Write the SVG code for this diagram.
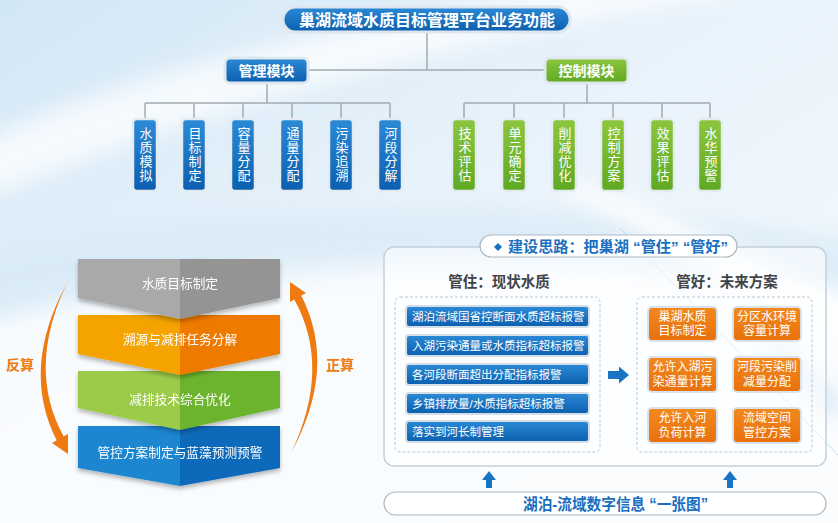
<svg xmlns="http://www.w3.org/2000/svg" width="838" height="523" viewBox="0 0 838 523">
<defs>
<linearGradient id="bg" x1="0" y1="0" x2="1" y2="1">
<stop offset="0" stop-color="#d2e7f6"/>
<stop offset="0.45" stop-color="#e9f3fb"/>
<stop offset="1" stop-color="#f7fbfe"/>
</linearGradient>
<linearGradient id="gBlue" x1="0" y1="0" x2="0" y2="1">
<stop offset="0" stop-color="#2b8ad6"/>
<stop offset="1" stop-color="#0b5fae"/>
</linearGradient>
<linearGradient id="gGreen" x1="0" y1="0" x2="0" y2="1">
<stop offset="0" stop-color="#8cc63e"/>
<stop offset="1" stop-color="#5fa922"/>
</linearGradient>
<linearGradient id="gOrange" x1="0" y1="0" x2="0" y2="1">
<stop offset="0" stop-color="#f28a1e"/>
<stop offset="1" stop-color="#e8700a"/>
</linearGradient>
<filter id="blur8" x="-20%" y="-50%" width="140%" height="200%"><feGaussianBlur stdDeviation="10"/></filter>
<filter id="sh" x="-10%" y="-10%" width="120%" height="130%"><feDropShadow dx="0" dy="3" stdDeviation="2" flood-color="#000" flood-opacity="0.28"/></filter>
</defs>
<style>
.t{font-family:"Liberation Sans","Noto Sans CJK SC",sans-serif}
.w{fill:#fff}
.b{font-weight:bold}
.line{stroke:#a3abb3;stroke-width:1.5;fill:none}
.leafB{fill:url(#gBlue);stroke:#e4ebf1;stroke-width:2.5}
.leafG{fill:url(#gGreen);stroke:#e4ebf1;stroke-width:2.5}
.leafT{font-size:13px;fill:#fff;text-anchor:middle;writing-mode:vertical-rl;letter-spacing:1px}
.bar{fill:url(#gBlue);stroke:#d3dee8;stroke-width:2}
.barT{font-size:11.5px;fill:#fff}
.ob{fill:url(#gOrange);stroke:#d9e2ea;stroke-width:2}
.obT{font-size:12px;fill:#fff;text-anchor:middle}
.dash{fill:none;stroke:#bcc6cf;stroke-width:1;stroke-dasharray:3 2}
.chT{font-size:12.7px;fill:#fff;text-anchor:middle}
.arc{fill:#ee7a12}
.blueTxt{fill:#1a6fc0}
</style>
<rect width="838" height="523" fill="url(#bg)"/>
<g opacity="0.9">
<path d="M-40,150 C150,60 400,10 700,-30 L760,-10 C450,40 200,110 -40,210 Z" fill="#ffffff" filter="url(#blur8)" opacity="0.8"/>
<path d="M-40,260 C200,200 500,190 880,240 L880,300 C500,240 200,250 -40,320 Z" fill="#d6e9f6" filter="url(#blur8)" opacity="0.7"/>
<path d="M-40,330 C200,270 500,250 880,300 L880,560 L-40,560 Z" fill="#fbfdff" filter="url(#blur8)"/>
<path d="M560,180 C650,200 760,260 880,330 L880,360 C760,300 650,230 560,190 Z" fill="#ffffff" filter="url(#blur8)"/>
<path d="M620,228 L838,455" stroke="#a9d2ee" stroke-width="1" opacity="0.8"/>
<path d="M760,320 C790,350 815,380 838,400 L838,420 C810,395 785,365 760,330 Z" fill="#9cc8ea" opacity="0.5" filter="url(#blur8)"/>
</g>

<g id="connectors">
<path class="line" d="M427,32 V70 M308,70 H545"/>
<path class="line" d="M267,83 V103 M145,103 H390 M145,103 V119 M194,103 V119 M243,103 V119 M292,103 V119 M341,103 V119 M390,103 V119"/>
<path class="line" d="M587,83 V103 M464,103 H710 M464,103 V119 M514,103 V119 M564,103 V119 M613,103 V119 M662,103 V119 M710,103 V119"/>
</g>

<g id="title">
<rect x="283" y="7" width="287" height="25" rx="12.5" fill="url(#gBlue)" stroke="#dde6ee" stroke-width="3"/>
<text class="t w b" x="427" y="25.5" font-size="16" text-anchor="middle">巢湖流域水质目标管理平台业务功能</text>
</g>

<g id="mgmt">
<rect x="225" y="58" width="83" height="25" rx="5" fill="url(#gBlue)" stroke="#e0e8ef" stroke-width="3"/>
<text class="t w b" x="266.5" y="75.5" font-size="14" text-anchor="middle">管理模块</text>
</g>
<g id="ctrl">
<rect x="545" y="58" width="83" height="25" rx="5" fill="url(#gGreen)" stroke="#e0e8ef" stroke-width="3"/>
<text class="t w b" x="586.5" y="75.5" font-size="14" text-anchor="middle">控制模块</text>
</g>

<g id="m1"><rect class="leafB" x="133" y="119" width="24" height="72" rx="4"/><text class="t leafT" x="145" y="155">水质模拟</text></g>
<g id="m2"><rect class="leafB" x="182" y="119" width="24" height="72" rx="4"/><text class="t leafT" x="194" y="155">目标制定</text></g>
<g id="m3"><rect class="leafB" x="231" y="119" width="24" height="72" rx="4"/><text class="t leafT" x="243" y="155">容量分配</text></g>
<g id="m4"><rect class="leafB" x="280" y="119" width="24" height="72" rx="4"/><text class="t leafT" x="292" y="155">通量分配</text></g>
<g id="m5"><rect class="leafB" x="329" y="119" width="24" height="72" rx="4"/><text class="t leafT" x="341" y="155">污染追溯</text></g>
<g id="m6"><rect class="leafB" x="378" y="119" width="24" height="72" rx="4"/><text class="t leafT" x="390" y="155">河段分解</text></g>

<g id="c1"><rect class="leafG" x="452" y="119" width="24" height="72" rx="4"/><text class="t leafT" x="464" y="155">技术评估</text></g>
<g id="c2"><rect class="leafG" x="502" y="119" width="24" height="72" rx="4"/><text class="t leafT" x="514" y="155">单元确定</text></g>
<g id="c3"><rect class="leafG" x="552" y="119" width="24" height="72" rx="4"/><text class="t leafT" x="564" y="155">削减优化</text></g>
<g id="c4"><rect class="leafG" x="601" y="119" width="24" height="72" rx="4"/><text class="t leafT" x="613" y="155">控制方案</text></g>
<g id="c5"><rect class="leafG" x="650" y="119" width="24" height="72" rx="4"/><text class="t leafT" x="662" y="155">效果评估</text></g>
<g id="c6"><rect class="leafG" x="698" y="119" width="24" height="72" rx="4"/><text class="t leafT" x="710" y="155">水华预警</text></g>

<g id="chevrons">
<g id="ch4" filter="url(#sh)">
<polygon points="78,426 180,426 180,486 78,468" fill="#1b86d0"/>
<polygon points="180,426 280,426 280,468 180,486" fill="#0b6abb"/>
<text class="t chT" x="180" y="457">管控方案制定与蓝藻预测预警</text>
</g>
<g id="ch3" filter="url(#sh)">
<polygon points="78,371 180,371 180,430 78,408" fill="#9ccb48"/>
<polygon points="180,371 280,371 280,408 180,430" fill="#6cb42e"/>
<text class="t chT" x="180" y="404">减排技术综合优化</text>
</g>
<g id="ch2" filter="url(#sh)">
<polygon points="78,315 180,315 180,375 78,354" fill="#f4a300"/>
<polygon points="180,315 280,315 280,354 180,375" fill="#ee7a06"/>
<text class="t chT" x="180" y="344">溯源与减排任务分解</text>
</g>
<g id="ch1" filter="url(#sh)">
<polygon points="78,259 180,259 180,319 78,298" fill="#a9a9a9"/>
<polygon points="180,259 280,259 280,298 180,319" fill="#949494"/>
<text class="t chT" x="180" y="288">水质目标制定</text>
</g>
</g>

<g id="fansuan">
<path class="arc" d="M67,283 Q20,369 57,441 L64,437 Q26,369 67,283 Z"/>
<polygon class="arc" points="68,454 52,443 68,434"/>
<text class="t b" x="20" y="370" font-size="14" fill="#ee7a12" text-anchor="middle">反算</text>
</g>
<g id="zhengsuan">
<g transform="rotate(180 179 368)">
<path class="arc" d="M67,283 Q20,369 57,441 L64,437 Q26,369 67,283 Z"/>
<polygon class="arc" points="68,454 52,443 68,434"/>
</g>
<text class="t b" x="340" y="370" font-size="14" fill="#ee7a12" text-anchor="middle">正算</text>
</g>

<g id="panel">
<rect x="384" y="247" width="442" height="219" rx="10" fill="#ffffff" fill-opacity="0.55" stroke="#c5d0d9" stroke-width="1.5"/>
</g>
<g id="header">
<rect x="480" y="235" width="257" height="22" rx="11" fill="#ffffff" stroke="#aeb9c3" stroke-width="1.2"/>
<path d="M498,243 L502,247 L498,251 L494,247 Z" fill="#1a6fc0"/>
<text class="t b blueTxt" x="508" y="252" font-size="15" textLength="220" lengthAdjust="spacingAndGlyphs">建设思路：把巢湖 “管住”  “管好”</text>
</g>

<g id="guanzhu">
<text class="t b" x="499" y="287" font-size="14.5" fill="#3f4448" text-anchor="middle">管住：现状水质</text>
<rect class="dash" x="395" y="297" width="205" height="155" rx="5"/>
<g id="bar1"><rect class="bar" x="406" y="306" width="183" height="21" rx="3"/><text class="t barT" x="412" y="321">湖泊流域国省控断面水质超标报警</text></g>
<g id="bar2"><rect class="bar" x="406" y="335" width="183" height="21" rx="3"/><text class="t barT" x="412" y="350">入湖污染通量或水质指标超标报警</text></g>
<g id="bar3"><rect class="bar" x="406" y="364" width="183" height="21" rx="3"/><text class="t barT" x="412" y="379">各河段断面超出分配指标报警</text></g>
<g id="bar4"><rect class="bar" x="406" y="393" width="183" height="21" rx="3"/><text class="t barT" x="412" y="408">乡镇排放量/水质指标超标报警</text></g>
<g id="bar5"><rect class="bar" x="406" y="421" width="183" height="21" rx="3"/><text class="t barT" x="412" y="436">落实到河长制管理</text></g>
</g>

<g id="arrowRight">
<path d="M608,371 H619 V366.5 L629,375 L619,383.5 V379 H608 Z" fill="#1a74c4"/>
</g>

<g id="guanhao">
<text class="t b" x="727" y="287" font-size="14.5" fill="#3f4448" text-anchor="middle">管好：未来方案</text>
<rect class="dash" x="637" y="297" width="175" height="155" rx="5"/>
<g id="o1"><rect class="ob" x="648" y="307" width="69" height="34" rx="4"/><text class="t obT"><tspan x="682.5" y="320.5">巢湖水质</tspan><tspan x="682.5" y="335">目标制定</tspan></text></g>
<g id="o2"><rect class="ob" x="733" y="307" width="68" height="34" rx="4"/><text class="t obT"><tspan x="767" y="320.5">分区水环境</tspan><tspan x="767" y="335">容量计算</tspan></text></g>
<g id="o3"><rect class="ob" x="648" y="357" width="69" height="35" rx="4"/><text class="t obT"><tspan x="682.5" y="371">允许入湖污</tspan><tspan x="682.5" y="385.5">染通量计算</tspan></text></g>
<g id="o4"><rect class="ob" x="733" y="357" width="68" height="35" rx="4"/><text class="t obT"><tspan x="767" y="371">河段污染削</tspan><tspan x="767" y="385.5">减量分配</tspan></text></g>
<g id="o5"><rect class="ob" x="648" y="408" width="69" height="35" rx="4"/><text class="t obT"><tspan x="682.5" y="422">允许入河</tspan><tspan x="682.5" y="436.5">负荷计算</tspan></text></g>
<g id="o6"><rect class="ob" x="733" y="408" width="68" height="35" rx="4"/><text class="t obT"><tspan x="767" y="422">流域空间</tspan><tspan x="767" y="436.5">管控方案</tspan></text></g>
</g>

<g id="upArrows">
<path d="M489,471 L496,480 H492 V488 H486 V480 H482 Z" fill="#1a74c4"/>
<path d="M730,471 L737,480 H733 V488 H727 V480 H723 Z" fill="#1a74c4"/>
</g>

<g id="footer">
<rect x="384" y="492" width="442" height="23" rx="11.5" fill="#ffffff" stroke="#a9b4be" stroke-width="1.2"/>
<text class="t b blueTxt" x="523" y="509.5" font-size="16" textLength="185" lengthAdjust="spacingAndGlyphs">湖泊-流域数字信息 “一张图”</text>
</g>
</svg>
